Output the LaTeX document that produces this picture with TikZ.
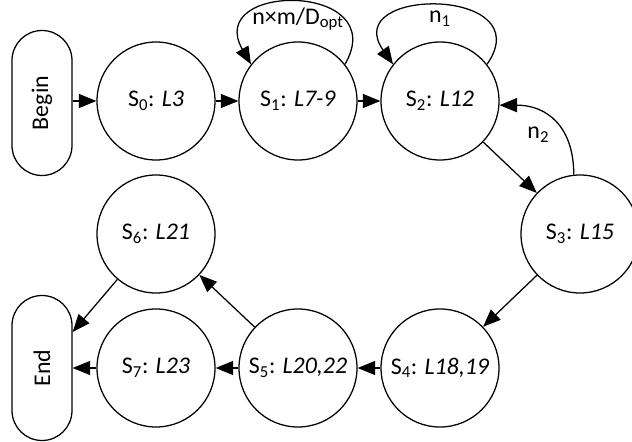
\documentclass[tikz,border=0pt]{standalone}
\usepackage{fontspec}
\setmainfont{Carlito}
\usetikzlibrary{arrows.meta}

\begin{document}
\begin{tikzpicture}[auto, >={Triangle[length=12.5pt,width=10pt]}, line width=0.9pt,
    font=\fontsize{17}{20}\selectfont]
  \useasboundingbox (0,0) rectangle (15.8,11.025);
    \tikzstyle{snode}=[circle,draw=black,minimum size=2.95cm,inner sep=0pt]
    \tikzstyle{tnode}=[rectangle,draw=black,rounded corners=0.75cm,minimum width=3.625cm,minimum height=1.5cm,rotate=90]

    \node (begin) at (1.05,8.45) [tnode] {Begin};
    \node (end) at (1.05,1.825) [tnode] {End};

    \node (s0) at (3.9,8.5) [snode] {S\textsubscript{0}: \textit{L3}};
    \node (s1) at (7.45,8.5) [snode] {S\textsubscript{1}: \textit{L7-9}};
    \node (s2) at (11.0,8.5) [snode] {S\textsubscript{2}: \textit{L12}};
    \node (s3) at (14.5,5.175) [snode] {S\textsubscript{3}: \textit{L15}};
    \node (s4) at (11.0,1.825) [snode] {S\textsubscript{4}: \textit{L18,19}};
    \node (s5) at (7.45,1.825) [snode] {S\textsubscript{5}: \textit{L20,22}};
    \node (s6) at (3.9,5.175) [snode] {S\textsubscript{6}: \textit{L21}};
    \node (s7) at (3.9,1.825) [snode] {S\textsubscript{7}: \textit{L23}};

\path[->] (begin.south |- s0) edge (s0)
  (s0) edge (s1)
  (s1) edge (s2)
  (s2) edge (s3)
  (s3) edge (s4)
  (s4) edge (s5)
  (s5) edge (s7)
  (s5) edge (s6)
  (s6) edge (end)
  (s7) edge (end);
\path[->] (s1.38) edge [out=60,in=120,looseness=2.6] node {n×m/D\textsubscript{opt}} (s1.142);
\path[->] (s2.38) edge [out=55,in=125,looseness=2.6] node {n\textsubscript{1}} (s2.142);
\path[->] (s3.96) edge [out=90,in=0,looseness=1.2] node {n\textsubscript{2}} (s2.-4);
    \end{tikzpicture}
\end{document}
